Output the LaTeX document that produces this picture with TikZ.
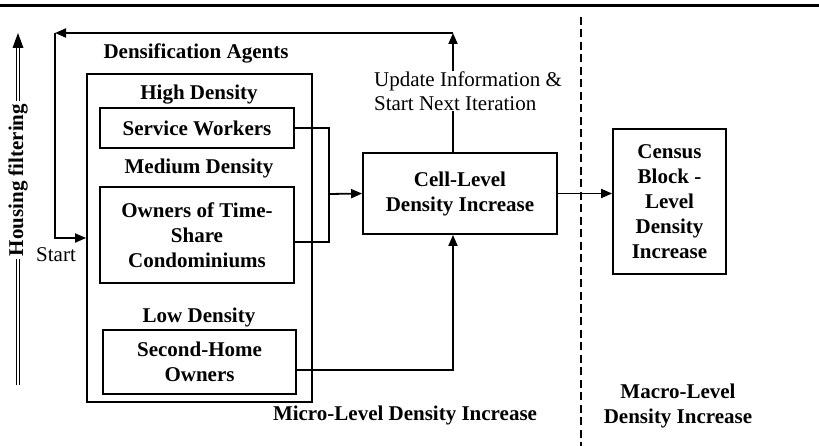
\documentclass[tikz,border=0pt]{standalone}
\usepackage{fontspec}
\setmainfont{Liberation Serif}
\usetikzlibrary{arrows.meta}

\begin{document}
\begin{tikzpicture}[x=1pt, y=-1pt, line width=1.8pt,
  every node/.style={font=\bfseries\fontsize{21}{25}\selectfont, inner sep=0pt, align=center},
  box/.style={draw, minimum width=194pt},
  arr/.style={-{Triangle[length=11pt,width=9pt]}},
  thin/.style={font=\fontsize{21}{24}\selectfont}]
  \useasboundingbox (0,0) rectangle (819,446);
  \draw[line width=3pt] (0,6) -- (819,6);
  % agents
  \node[draw, minimum width=225pt, minimum height=328pt] (agents) at (199.5,238) {};
  \node (title) at (196,53) {Densification Agents};
  \node (high) at (199,95) {High Density};
  \node[box, minimum height=40pt] (service) at (197,128) {Service Workers};
  \node (medium) at (199,168) {Medium Density};
  \node[box, minimum height=96pt] (owners) at (197,235) {Owners of Time-\\Share\\Condominiums};
  \node (low) at (199,317) {Low Density};
  \node[box, minimum width=193pt, minimum height=64pt] (home) at (199.5,362) {Second-Home\\Owners};
  % cells and blocks
  \node[draw, minimum width=194pt, minimum height=81pt] (cell) at (460,193.5) {Cell-Level\\Density Increase};
  \node[draw, minimum width=113pt, minimum height=145pt] (census) at (669.5,201.5) {Census\\Block -\\Level\\Density\\Increase};
  \node[thin, align=left] (update) at (468,91) {Update Information \&\\Start Next Iteration};
  \node[thin] (start) at (56,255) {Start};
  \node (micro) at (405,415) {Micro-Level Density Increase};
  \node (macro) at (678,406) {Macro-Level\\Density Increase};
  % connectors
  \coordinate (join) at (329,194);
  \coordinate (loop) at (453,33);
  \coordinate (corner) at (55,33);
  \draw (service.east) -| (join) |- ([yshift=-7pt]owners.east);
  \draw[arr] (join) -- (cell.west);
  \draw[arr] ([yshift=-8pt]home.east) -| (cell.south -| loop);
  \draw (cell.north -| loop) -- (update.south -| loop);
  \draw[arr] (update.north -| loop) -- (loop);
  \draw[arr] (loop) -- (corner);
  \draw[arr] (corner) |- (agents.west);
  \draw[arr] (cell.east) -- (cell.east -| census.west);
  \draw[dash pattern=on 8pt off 4.5pt, line width=2.5pt] (581,17) -- (581,446);
  % housing filtering
  \draw[double, double distance=2pt, line width=1.3pt] (18,385) -- (18,46);
  \fill (18,33) -- (12.5,48) -- (23.5,48) -- cycle;
  \node[fill=white, rotate=90, inner sep=3pt] (filter) at (18,180) {Housing filtering};
\end{tikzpicture}
\end{document}
